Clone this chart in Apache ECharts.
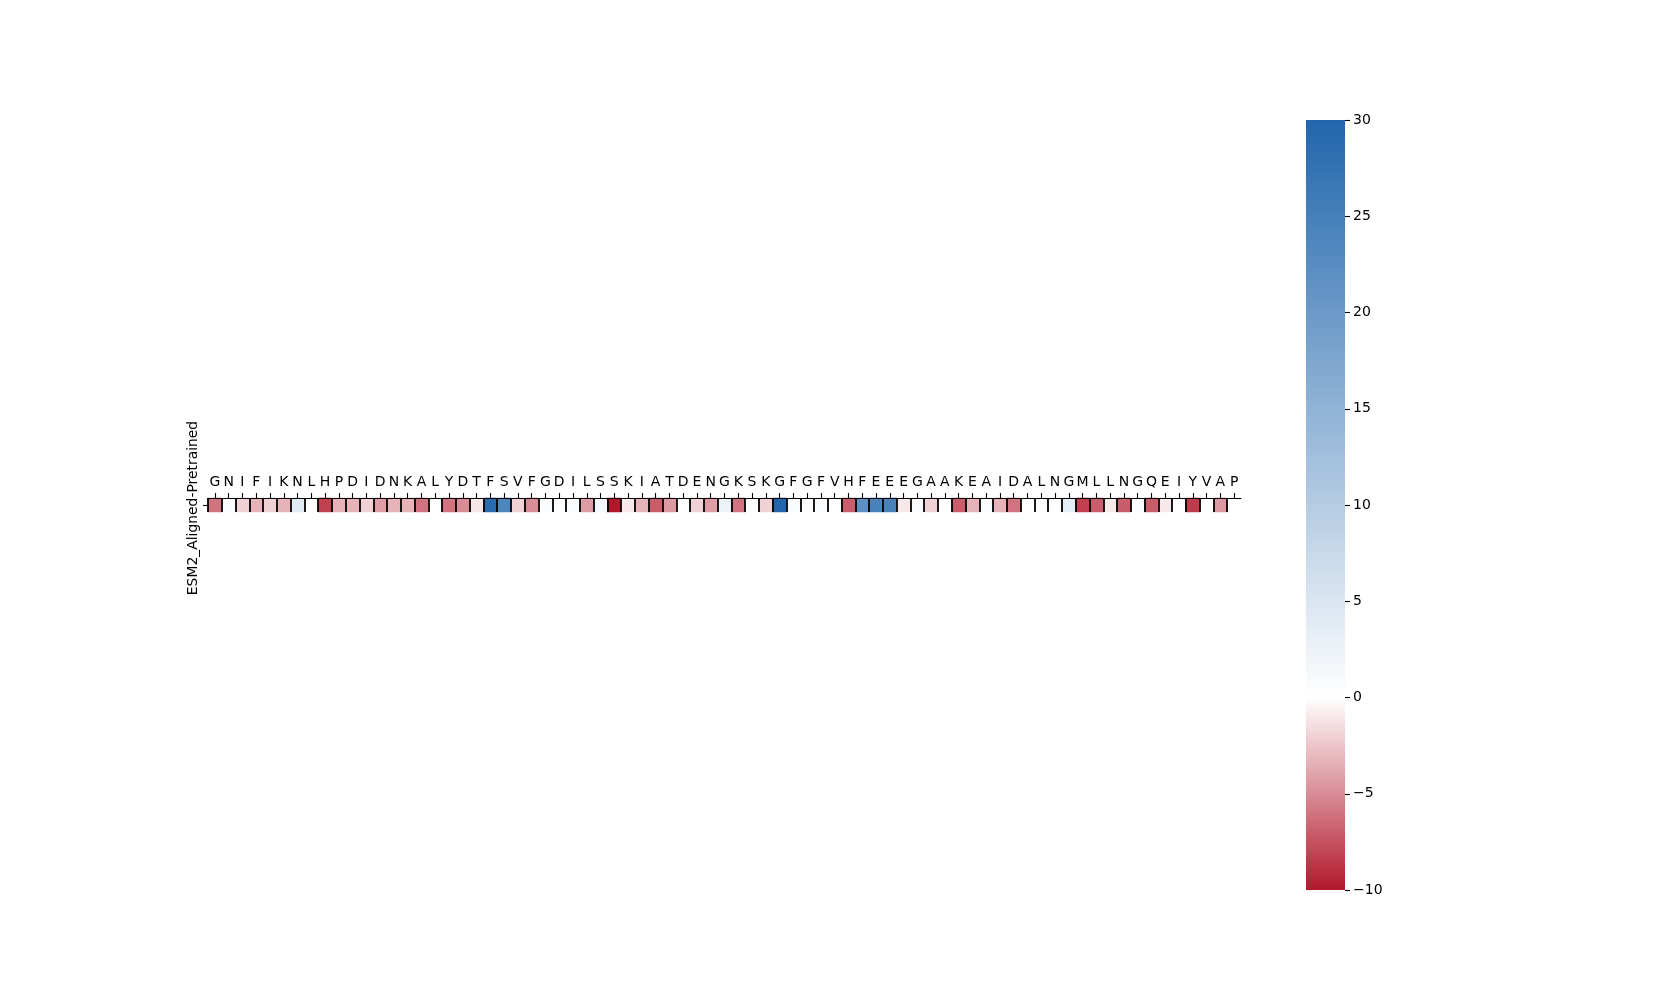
<!DOCTYPE html>
<html>
<head>
<meta charset="utf-8">
<script src="https://cdn.jsdelivr.net/npm/echarts@6/dist/echarts.min.js"></script>
<style>
html,body{margin:0;padding:0;background:#fff;}
#chart{width:1666px;height:1000px;}
</style>
</head>
<body>
<div id="chart"></div>
<script>
// Residue labels (x categories)
var residues = ['G','N','I','F','I','K','N','L','H','P','D','I','D','N','K','A','L','Y','D','T',
  'F','S','V','F','G','D','I','L','S','S','K','I','A','T','D','E','N','G','K','S',
  'K','G','F','G','F','V','H','F','E','E','E','G','A','A','K','E','A','I','D','A',
  'L','N','G','M','L','L','N','G','Q','E','I','Y','V','A','P'];
// Row label
var rows = ['ESM2_Aligned-Pretrained'];
// Cell values (difference), null = no value
var values = [-6, 0.5, -2, -3.3, -2, -3.3, 4, 0, -8.2, -3.3, -3.3, -2, -4.2, -3.3, -3.3, -6, 0, -6, -5, -1.1,
  29, 24, -2, -5, 0.5, 0, 0.5, -4.3, 1.5, -10, -1, -3.3, -7, -4.4, 0, -2, -4.3, 2.5, -6, 0.5,
  -2, 30, 0.5, 0.5, 0.5, 0, -7, 22, 24.5, 24.5, -1, 0.5, -2, 0, -7, -3.3, 0.5, -3.3, -6, 0,
  0.5, 0, 3.5, -8.3, -7, -1, -7, 0.5, -7, -1, 0, -8.5, 0, -4.4, null];
// Colorbar range, ticks and colour stops (evenly spaced from min to max)
var cbMin = -10, cbMax = 30, cbStep = 5;
var cbColors = ['#b2182b', '#ffffff', '#b5cce3', '#6b99c8', '#2166ac'];

var heatData = values.map(function (v, i) { return [i, 0, v == null ? '-' : v]; });
var font = 'DejaVu Sans';
var cbBox = { left: 1306, top: 120, width: 39, height: 770 };

var chart = echarts.init(document.getElementById('chart'));
chart.setOption({
  backgroundColor: '#ffffff',
  animation: false,
  grid: [
    { left: 208, top: 498, width: 1033, height: 14, containLabel: false },
    { left: cbBox.left, top: cbBox.top, width: cbBox.width, height: cbBox.height, containLabel: false }
  ],
  xAxis: [
    {
      type: 'category', gridIndex: 0, data: residues, position: 'top', z: 5,
      axisLine: { show: true, lineStyle: { color: '#000', width: 1.1 } },
      axisTick: { show: true, alignWithLabel: true, length: 5, lineStyle: { color: '#000', width: 1.1 } },
      axisLabel: { interval: 0, fontFamily: font, fontSize: 14, color: '#000', margin: 9 },
      splitLine: { show: true, showMinLine: true, showMaxLine: false, interval: 0, lineStyle: { color: '#000', width: 1.8 } }
    },
    { type: 'value', gridIndex: 1, show: false, min: 0, max: 1,
      axisLine: { onZero: false } }
  ],
  yAxis: [
    {
      type: 'category', gridIndex: 0, data: rows,
      axisLine: { show: false, onZero: false },
      axisTick: { show: true, alignWithLabel: true, length: 5, lineStyle: { color: '#000', width: 1.1 } },
      axisLabel: { rotate: 90, fontFamily: font, fontSize: 13.9, color: '#000', margin: 8, padding: [0, 6, 0, 0] },
      splitLine: { show: false }
    },
    {
      type: 'value', gridIndex: 1, position: 'right', min: cbMin, max: cbMax, interval: cbStep, z: 5,
      axisLine: { show: false, onZero: false },
      axisTick: { show: true, length: 5, lineStyle: { color: '#000', width: 1.1 } },
      axisLabel: { fontFamily: font, fontSize: 14, color: '#000', margin: 8, padding: [4, 0, 0, 0],
        formatter: function (v) { return String(v).replace('-', '\u2212'); } },
      splitLine: { show: false }
    }
  ],
  visualMap: {
    type: 'continuous', min: cbMin, max: cbMax, seriesIndex: 0,
    calculable: false, show: false,
    inRange: { color: cbColors }
  },
  graphic: [
    {
      type: 'rect', left: cbBox.left, top: cbBox.top, z: 1,
      shape: { x: 0, y: 0, width: cbBox.width, height: cbBox.height },
      style: {
        fill: new echarts.graphic.LinearGradient(0, 1, 0, 0,
          cbColors.map(function (c, i) { return { offset: i / (cbColors.length - 1), color: c }; }))
      }
    }
  ],
  series: [
    {
      type: 'heatmap', xAxisIndex: 0, yAxisIndex: 0, data: heatData,
      itemStyle: { borderWidth: 0 },
      emphasis: { disabled: true }
    }
  ]
});
</script>
</body>
</html>
